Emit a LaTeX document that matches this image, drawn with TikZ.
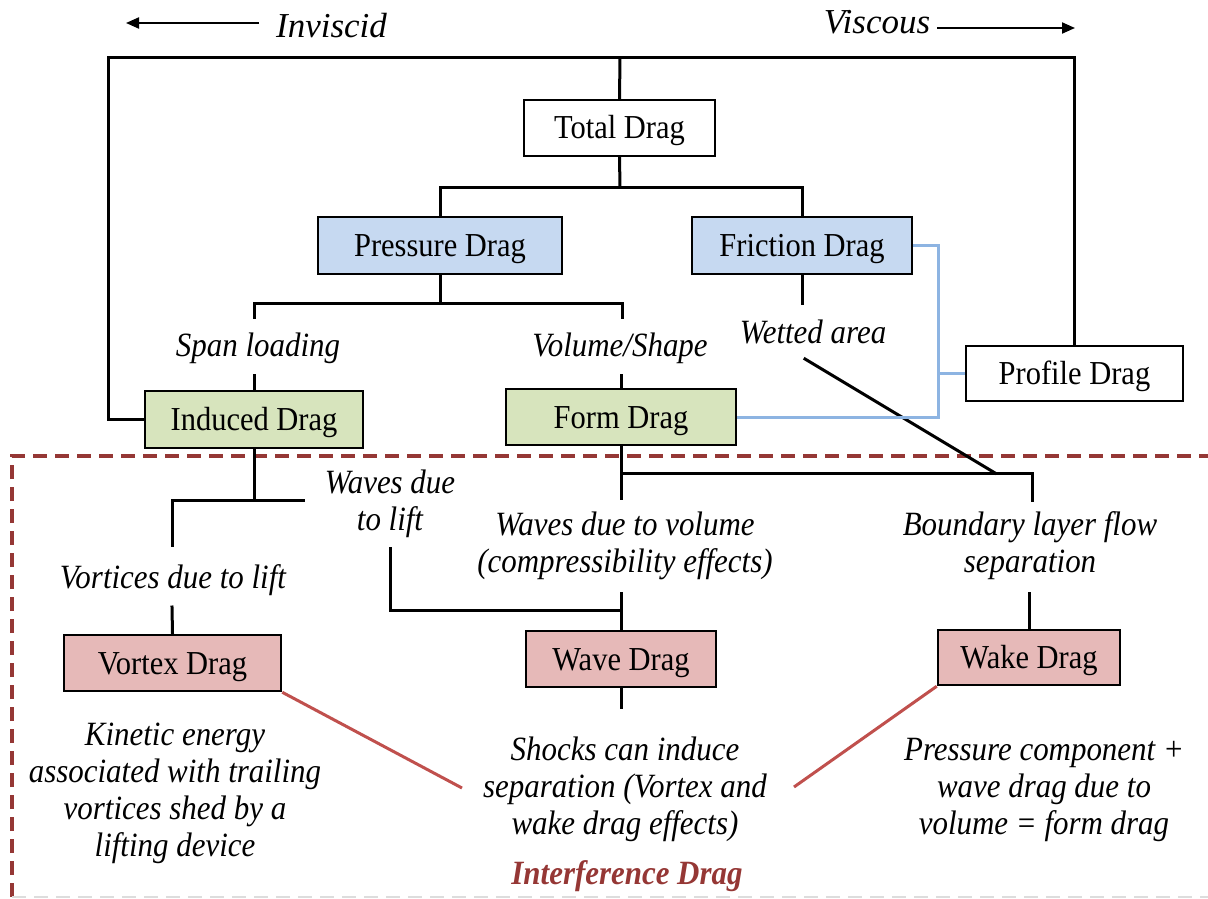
\documentclass[tikz,border=0pt]{standalone}
\usepackage{fontspec}
\setmainfont{Liberation Serif}
\newfontfamily\condfont[FakeStretch=0.91]{Liberation Serif}
\usetikzlibrary{arrows.meta}
\definecolor{bluefill}{HTML}{C6D9F1}
\definecolor{greenfill}{HTML}{D7E4BD}
\definecolor{redfill}{HTML}{E6B9B8}
\definecolor{blueline}{HTML}{8DB4E2}
\definecolor{redline}{HTML}{C0504D}
\definecolor{darkred}{HTML}{953735}
\definecolor{faint}{HTML}{DDDDDD}
\begin{document}
\begin{tikzpicture}[x=1pt,y=-1pt,
  box/.style={draw=black,line width=2.5pt,inner sep=0pt,text height=22pt,text depth=0pt,
    font=\condfont\fontsize{33.5}{40}\selectfont},
  lbl/.style={font=\condfont\fontsize{34}{37}\selectfont\itshape,align=center,inner sep=0pt},
  toplbl/.style={font=\fontsize{35}{40}\selectfont\itshape,inner sep=0pt},
  conn/.style={line width=3pt,line cap=rect},
  bconn/.style={line width=3pt,blueline},
  rconn/.style={line width=3pt,redline},
  dashbox/.style={line width=4pt,darkred,dash pattern=on 14pt off 8pt},
  arr/.style={line width=2pt,-{Triangle[length=13pt,width=11pt]}}]
\useasboundingbox (0,0) rectangle (1208,899);

% interference region
\draw[dashbox] (12,897) -- (12,456) -- (1208,456);
\draw[line width=2pt,faint,dash pattern=on 14pt off 8pt] (12,897) -- (1208,897);

% top labels
\node[toplbl] (inv) at (331.5,26) {Inviscid};
\node[toplbl] (visc) at (877,22) {Viscous};
\coordinate (invs) at (259,23);
\coordinate (invt) at (126,23);
\coordinate (viss) at (937,28);
\coordinate (vist) at (1075,28);
\draw[arr] (invs) -- (invt);
\draw[arr] (viss) -- (vist);

% boxes
\node[box,fill=white,minimum width=191pt,minimum height=56pt] (total) at (619.5,128) {Total Drag};
\node[box,fill=bluefill,minimum width=244pt,minimum height=57pt] (pressure) at (440,245.5) {Pressure Drag};
\node[box,fill=bluefill,minimum width=220pt,minimum height=57pt] (friction) at (802,245.5) {Friction Drag};
\node[box,fill=white,minimum width=217pt,minimum height=55pt] (profile) at (1074.5,373.5) {Profile Drag};
\node[box,fill=greenfill,minimum width=218pt,minimum height=57pt] (induced) at (254,419.5) {Induced Drag};
\node[box,fill=greenfill,minimum width=230pt,minimum height=56pt] (form) at (621,417) {Form Drag};
\node[box,fill=redfill,minimum width=217pt,minimum height=56pt] (vortex) at (172.5,663) {Vortex Drag};
\node[box,fill=redfill,minimum width=190pt,minimum height=56pt] (wave) at (621,659) {Wave Drag};
\node[box,fill=redfill,minimum width=182pt,minimum height=55pt] (wake) at (1029,657.5) {Wake Drag};

% labels
\node[lbl] (span) at (258,348) {Span loading};
\node[lbl] (volshape) at (620,348) {Volume/Shape};
\node[lbl] (wetted) at (813,332) {Wetted area};
\node[lbl] (wlift) at (390,503.5) {Waves due\\to lift};
\node[lbl] (vlift) at (173,580) {Vortices due to lift};
\node[lbl] (wvol) at (625,546) {Waves due to volume\\(compressibility effects)};
\node[lbl] (blayer) at (1030,546) {Boundary layer flow\\separation};
\node[lbl] (kin) at (175,793) {Kinetic energy\\associated with trailing\\vortices shed by a\\lifting device};
\node[lbl] (shocks) at (625,789.5) {Shocks can induce\\separation (Vortex and\\wake drag effects)};
\node[lbl] (pcomp) at (1044,790) {Pressure component +\\wave drag due to\\volume = form drag};
\node[lbl,font=\condfont\fontsize{34}{37}\selectfont\itshape\bfseries,text=darkred] (interf) at (627,876) {Interference Drag};

% coordinates for junctions and free ends
\coordinate (top) at (620,58);
\coordinate (tl) at (108,58);
\coordinate (tr) at (1074.5,58);
\coordinate (il) at (108,419.5);
\coordinate (j1) at (620,187);
\coordinate (j2) at (440,303);
\coordinate (s1) at (254,317);
\coordinate (s2) at (622,317);
\coordinate (s3) at (254,375);
\coordinate (s4) at (621,375);
\coordinate (fw) at (802,303);
\coordinate (dg1) at (805,359);
\coordinate (dg2) at (995,473);
\coordinate (j3) at (254,500);
\coordinate (j3r) at (303,500);
\coordinate (s5) at (172,545);
\coordinate (s6) at (172,607);
\coordinate (s7) at (390,548);
\coordinate (j4) at (621,610);
\coordinate (s8) at (621,593);
\coordinate (j5) at (621,473);
\coordinate (s9) at (621,498);
\coordinate (s10) at (1032,500);
\coordinate (s11) at (1029,593);
\coordinate (s12) at (621,707);
\coordinate (r1) at (462,788);
\coordinate (r2) at (794,787);
\coordinate (b1) at (938,417);
\coordinate (b2) at (938,373.5);

% black connectors
\draw[conn] (total.north) -- (top);
\draw[conn] (induced.west) -- (il) -- (tl) -- (tr) -- (profile.north);
\draw[conn] (total.south) -- (j1);
\draw[conn] (pressure.north) |- (j1) -| (friction.north);
\draw[conn] (pressure.south) -- (j2);
\draw[conn] (s1) |- (j2) -| (s2);
\draw[conn] (s3) -- (induced.north);
\draw[conn] (s4) -- (form.north);
\draw[conn] (friction.south) -- (fw);
\draw[conn] (dg1) -- (dg2);
\draw[conn] (induced.south) -- (j3);
\draw[conn] (s5) |- (j3) -- (j3r);
\draw[conn] (s6) -- (vortex.north);
\draw[conn] (s7) |- (j4);
\draw[conn] (s8) -- (wave.north);
\draw[conn] (form.south) -- (s9);
\draw[conn] (j5) -| (s10);
\draw[conn] (s11) -- (wake.north);
\draw[conn] (wave.south) -- (s12);

% blue connectors
\draw[bconn] (friction.east) -| (b1) -- (form.east);
\draw[bconn] (b2) -- (profile.west);

% red connectors
\draw[rconn] (vortex.south east) -- (r1);
\draw[rconn] (r2) -- (wake.south west);
\end{tikzpicture}
\end{document}
